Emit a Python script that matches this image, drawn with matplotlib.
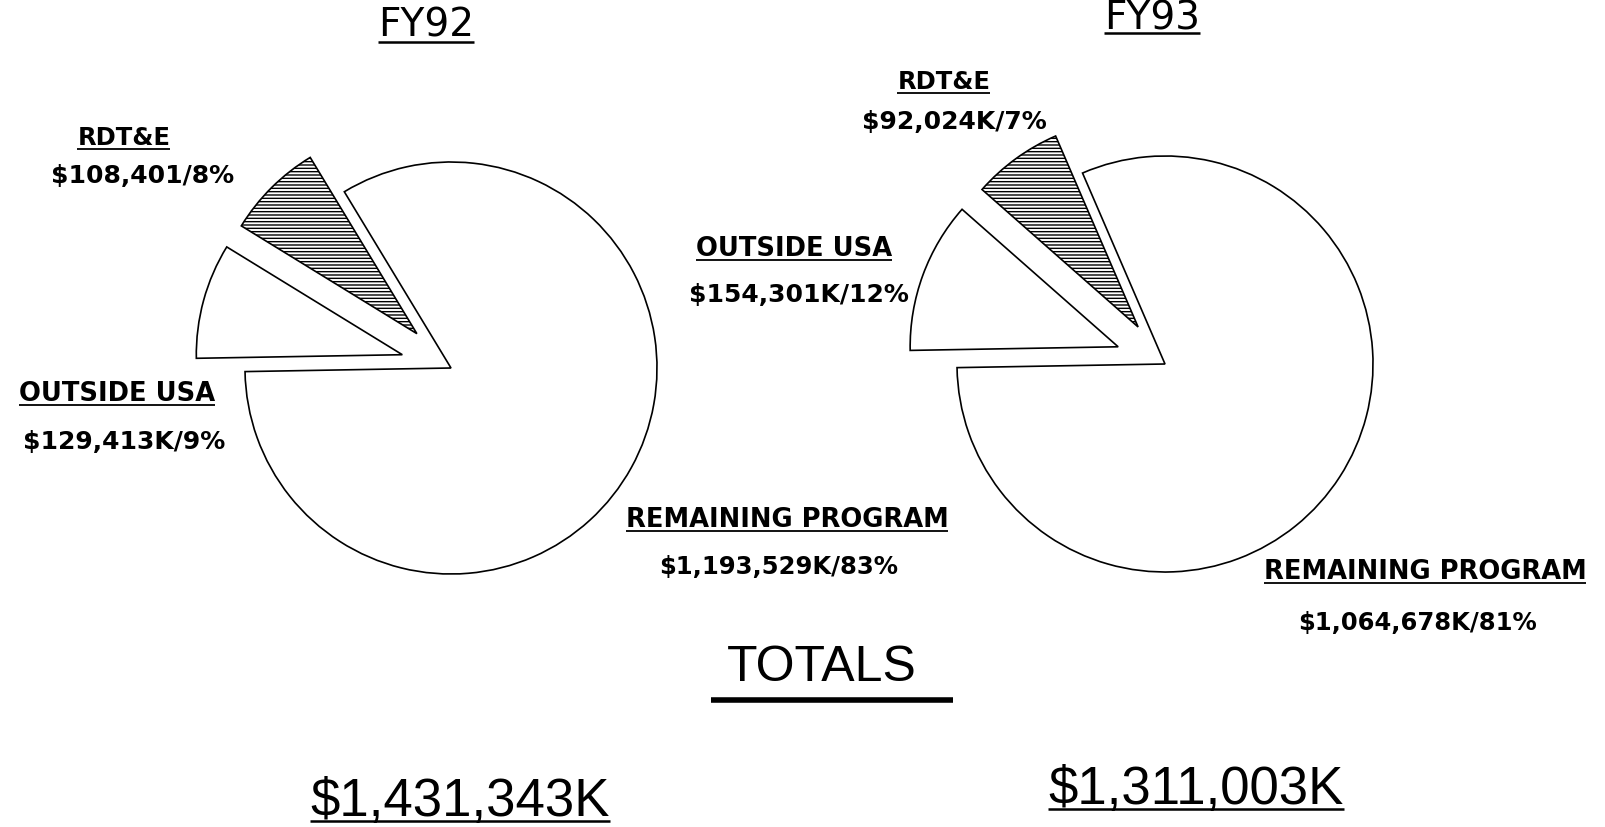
import matplotlib
matplotlib.use("Agg")
import matplotlib.pyplot as plt

# pie data, in thousands of dollars
categories = ["REMAINING PROGRAM", "RDT&E", "OUTSIDE USA"]
fy92_values = [1193529, 108401, 129413]
fy93_values = [1064678, 92024, 154301]

fy92_labels = ["$1,193,529K/83%", "$108,401/8%", "$129,413K/9%"]
fy93_labels = ["$1,064,678K/81%", "$92,024K/7%", "$154,301K/12%"]

fy92_total = "$1,431,343K"
fy93_total = "$1,311,003K"

W, H = 1606, 827

fig = plt.figure(figsize=(W / 100, H / 100), dpi=100)
ax = fig.add_axes([0, 0, 1, 1])


def img_y(y):
    # picture rows count from the top, axes from the bottom
    return H - y


def pie(values, center, radius, explode):
    # explode is given as a share of the radius, pie wants data units
    wedges, _ = ax.pie(values, explode=[e * radius for e in explode],
                       center=(center[0], img_y(center[1])),
                       radius=radius, startangle=181, counterclock=True,
                       colors=["white"] * len(values), frame=True,
                       wedgeprops=dict(edgecolor="black", linewidth=1.2))
    wedges[1].set_hatch("-----")
    return wedges


plt.rcParams["hatch.linewidth"] = 1.0
pie(fy92_values, (451, 368), 206, [0, 0.235, 0.245])
pie(fy93_values, (1165, 364), 208, [0, 0.22, 0.24])

ax.set_xlim(0, W)
ax.set_ylim(0, H)
ax.set_aspect("equal")
ax.axis("off")

renderer = fig.canvas.get_renderer()


def put(x, y, s, size, weight="bold", family="DejaVu Sans", underline=True,
        gap=4, lw=1.3):
    t = ax.text(x, img_y(y), s, ha="center", va="baseline", fontsize=size,
                fontweight=weight, family=family, color="black")
    if underline:
        bb = t.get_window_extent(renderer=renderer)
        ax.plot([bb.x0, bb.x1], [img_y(y + gap)] * 2, color="black", lw=lw,
                solid_capstyle="butt")
    return t


# year titles
put(426, 36, "FY92", 28, weight="normal", gap=6, lw=1.8)
put(1152, 29, "FY93", 28, weight="normal", gap=4, lw=1.8)

# FY92 labels
put(787, 527, categories[0], 18.5)
put(779, 574, fy92_labels[0], 17.5, underline=False)
put(124, 145, categories[1], 17.5)
put(143, 183, fy92_labels[1], 18, underline=False)
put(117, 401, categories[2], 18.5)
put(124, 449, fy92_labels[2], 18, underline=False)

# FY93 labels
put(1425, 579, categories[0], 18.5)
put(1418, 630, fy93_labels[0], 17.5, underline=False)
put(944, 89, categories[1], 17.5)
put(954, 129, fy93_labels[1], 18, underline=False)
put(794, 256, categories[2], 18.5)
put(799, 302, fy93_labels[2], 18, underline=False)

# totals
tot = put(822, 681, "TOTALS", 36, weight="normal", family="Liberation Sans",
          underline=False)
bb = tot.get_window_extent(renderer=renderer)
ax.plot([bb.x0 - 16, bb.x1 + 36], [img_y(700)] * 2, color="black", lw=4,
        solid_capstyle="butt")
put(460, 816, fy92_total, 38, weight="normal", family="Liberation Sans",
    gap=5, lw=1.8)
put(1196, 804, fy93_total, 38, weight="normal", family="Liberation Sans",
    gap=5, lw=1.8)

fig.savefig("out.png", dpi=100, facecolor="white")
